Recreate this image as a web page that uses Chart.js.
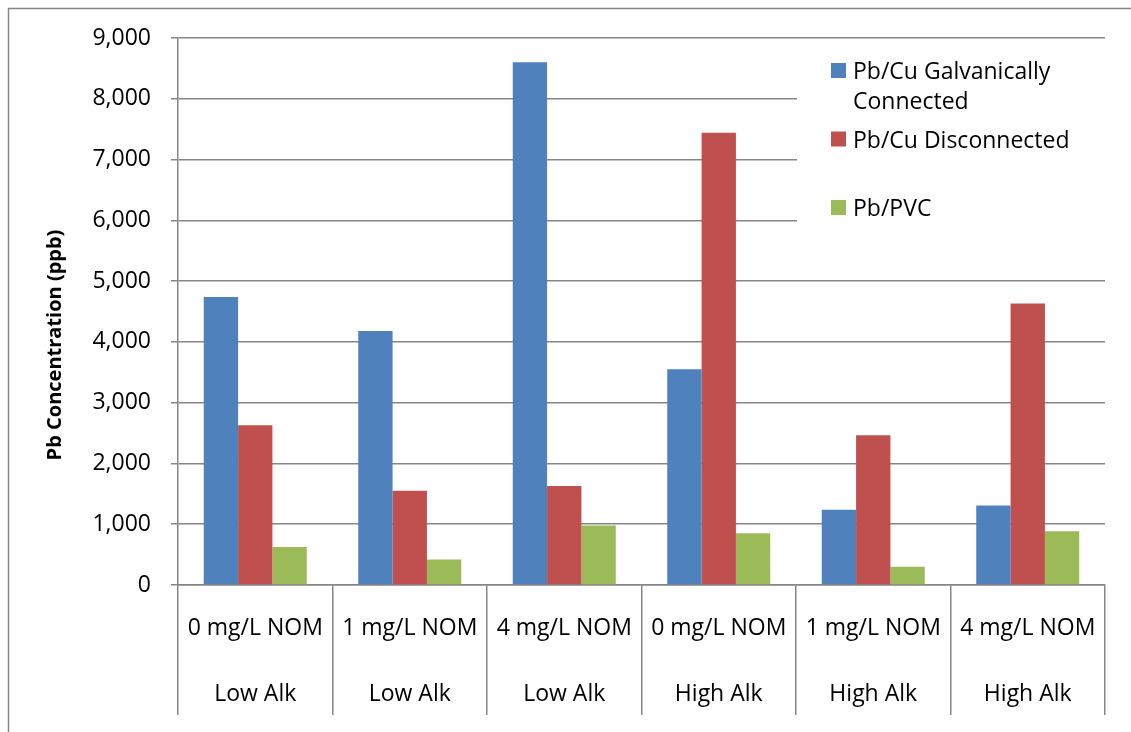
<!DOCTYPE html>
<html>
<head>
<meta charset="utf-8">
<script src="https://cdn.jsdelivr.net/npm/chart.js@4.4.0/dist/chart.umd.min.js"></script>
<style>
html, body { margin: 0; padding: 0; background: #fff; }
</style>
</head>
<body>
<canvas id="myChart" width="1131" height="732"></canvas>
<script>
var nomLevels = ["0 mg/L NOM", "1 mg/L NOM", "4 mg/L NOM", "0 mg/L NOM", "1 mg/L NOM", "4 mg/L NOM"];
var alkLevels = ["Low Alk", "Low Alk", "Low Alk", "High Alk", "High Alk", "High Alk"];
var galvanic = [4740, 4180, 8600, 3550, 1240, 1310];
var disconnected = [2630, 1550, 1630, 7440, 2465, 4630];
var pvc = [625, 420, 980, 850, 300, 885];
var seriesNames = ["Pb/Cu Galvanically Connected", "Pb/Cu Disconnected", "Pb/PVC"];
var seriesColors = ["#4F81BD", "#C0504D", "#9BBB59"];
var yTitle = "Pb Concentration (ppb)";

var gray = "#868686";
var font = "Open Sans";

// split a label into lines that fit maxWidth
function wrapText(ctx, text, maxWidth) {
  var words = text.split(" ");
  var lines = [];
  var line = "";
  words.forEach(function (w) {
    var test = line ? line + " " + w : w;
    if (line && ctx.measureText(test).width > maxWidth) {
      lines.push(line);
      line = w;
    } else {
      line = test;
    }
  });
  if (line) lines.push(line);
  return lines;
}

var extras = {
  id: "extras",
  afterDraw: function (chart) {
    var ctx = chart.ctx;
    ctx.save();

    // outer chart border (only left and top fall inside the picture)
    ctx.strokeStyle = gray;
    ctx.lineWidth = 1.5;
    ctx.beginPath();
    ctx.moveTo(8.5, 732);
    ctx.lineTo(8.5, 8.5);
    ctx.lineTo(1131, 8.5);
    ctx.stroke();

    // y axis title
    ctx.translate(55, 345);
    ctx.rotate(-Math.PI / 2);
    ctx.font = "bold 20px '" + font + "'";
    ctx.fillStyle = "#000";
    ctx.textAlign = "center";
    ctx.textBaseline = "middle";
    ctx.fillText(yTitle, 0, 0);
    ctx.setTransform(1, 0, 0, 1, 0, 0);

    // legend
    ctx.fillStyle = "#fff";
    ctx.fillRect(797, 41, 312, 187);
    ctx.font = "23px '" + font + "'";
    ctx.textAlign = "left";
    ctx.textBaseline = "alphabetic";
    chart.data.datasets.forEach(function (ds, i) {
      var cy = 70.5 + i * 68.5;
      ctx.fillStyle = ds.backgroundColor;
      ctx.fillRect(831, cy - 7.5, 15, 15);
      ctx.fillStyle = "#000";
      wrapText(ctx, ds.label, 230).forEach(function (line, j) {
        ctx.fillText(line, 853, cy + 8.5 + j * 30);
      });
    });
    ctx.restore();
  }
};

new Chart("myChart", {
  type: "bar",
  data: {
    labels: nomLevels.map(function (n, i) { return [n, alkLevels[i]]; }),
    datasets: [
      { label: seriesNames[0], data: galvanic, backgroundColor: seriesColors[0] },
      { label: seriesNames[1], data: disconnected, backgroundColor: seriesColors[1] },
      { label: seriesNames[2], data: pvc, backgroundColor: seriesColors[2] }
    ]
  },
  options: {
    responsive: false,
    animation: false,
    devicePixelRatio: 1,
    categoryPercentage: 0.6667,
    barPercentage: 1.0,
    layout: { padding: { top: 38, right: 26, left: 0, bottom: 0 } },
    plugins: {
      legend: { display: false },
      tooltip: { enabled: false }
    },
    scales: {
      x: {
        grid: { offset: true, drawOnChartArea: false, drawTicks: true, tickLength: 130, color: gray, lineWidth: 1.5 },
        border: { color: gray, width: 1.5 },
        ticks: {
          color: "#000",
          font: { family: font, size: 23, lineHeight: 66 / 23 },
          padding: -120,
          maxRotation: 0,
          autoSkip: false
        },
        afterFit: function (s) { s.height = 147; }
      },
      y: {
        min: 0,
        max: 9000,
        grid: { color: gray, lineWidth: 1.5, tickLength: 7 },
        border: { color: gray, width: 1.5 },
        ticks: {
          stepSize: 1000,
          color: "#000",
          font: { family: font, size: 23 },
          padding: 20,
          callback: function (v) { return v.toLocaleString("en-US"); }
        },
        afterFit: function (s) { s.width = 178; }
      }
    }
  },
  plugins: [extras]
});
</script>
</body>
</html>
